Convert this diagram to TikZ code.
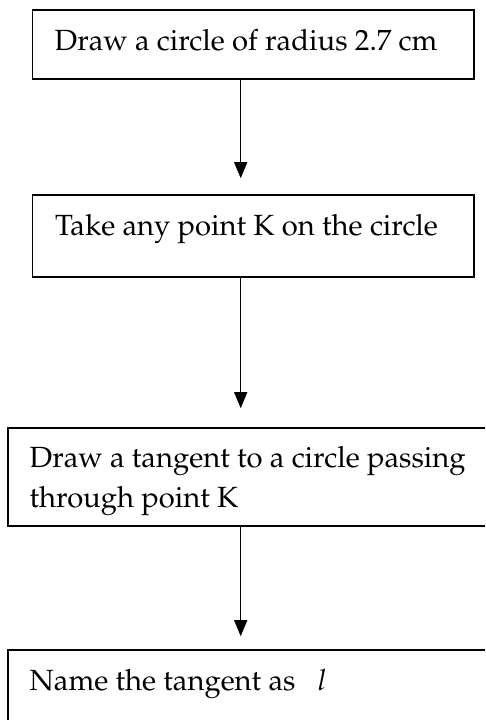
\documentclass[tikz,border=0pt]{standalone}
\usepackage[T1]{fontenc}
\usepackage{mathpazo}
\usetikzlibrary{arrows.meta}
\begin{document}
\begin{tikzpicture}[x=1pt,y=-1pt,
  box/.style={draw=black, line width=1.6pt, inner sep=0pt, fill=white},
  lbl/.style={anchor=base west, inner sep=0pt, font=\fontsize{29.2}{41}\selectfont},
  arr/.style={draw=black, line width=1.3pt, -{Triangle[width=13pt,length=16pt]}}]
\useasboundingbox (0,0) rectangle (485,720);
\clip (0,0) rectangle (485,720);
\coordinate (ax) at (240.7,0);
% boxes
\node[box, minimum width=441.5pt, minimum height=69pt] (b1) at (253.25,44.5) {};
\node[box, minimum width=441.5pt, minimum height=82pt] (b2) at (253.25,236) {};
\node[box, minimum width=490pt, minimum height=98pt] (b3) at (253,477) {};
\node[box, minimum width=490pt, minimum height=100pt] (b4) at (253,700) {};
% texts
\node[lbl] (t1) at (54.5,50) {Draw a circle of radius 2.7 cm};
\node[lbl] (t2) at (55,235) {Take any point K on the circle};
\node[lbl] (t3a) at (29.5,467) {Draw a tangent to a circle passing};
\node[lbl] (t3b) at (29.5,507) {through point K};
\node[lbl] (t4) at (29.5,690) {Name the tangent as \ \ $l$};
% connectors
\draw[arr, shorten >=16pt] (b1.south -| ax) -- (b2.north -| ax);
\draw[arr, shorten >=19pt] (b2.south -| ax) -- (b3.north -| ax);
\draw[arr, shorten >=13pt] (b3.south -| ax) -- (b4.north -| ax);
\end{tikzpicture}
\end{document}
